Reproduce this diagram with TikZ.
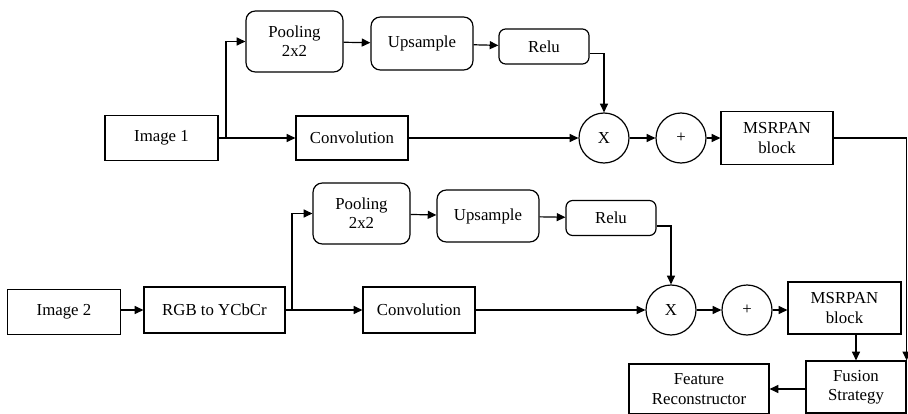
\documentclass[tikz,border=0pt]{standalone}
\usepackage{fontspec}
\setmainfont{Liberation Serif}
\usetikzlibrary{arrows.meta}
\begin{document}
\begin{tikzpicture}[x=0.75pt,y=-0.75pt]
      \tikzstyle{every path}=[line width=0.9pt]
      \tikzstyle{every node}=[font=\rmfamily\fontsize{12.6}{14.5}\selectfont]

      \tikzstyle{blk}=[draw,align=center,inner sep=2pt]
      \tikzstyle{rblk}=[blk,rounded corners=7pt]
      \tikzstyle{op}=[draw,circle,minimum size=37.5pt,inner sep=0pt]
      \tikzstyle{flow}=[-{Triangle[length=6.5pt,width=6pt]}]

      \useasboundingbox (0,0) rectangle (908,414);

      % first image
      \node [blk,minimum width=84.75pt,minimum height=33.75pt] (img1) at (161.5,138) {Image 1};
      \node [rblk,minimum width=72.75pt,minimum height=45.75pt] (pool1) at (294.5,41.5) {Pooling\\2x2};
      \node [rblk,minimum width=76.5pt,minimum height=39.75pt] (ups1) at (422,43.5) {Upsample};
      \node [rblk,rounded corners=5pt,minimum width=67.5pt,minimum height=26.25pt] (relu1) at (544,46.5) {Relu};
      \node [blk,minimum width=84pt,minimum height=33pt] (conv1) at (352,138) {Convolution};
      \node [op] (mul1) at (604,138) {X};
      \node [op] (add1) at (681,138) {+};
      \node [blk,minimum width=84pt,minimum height=39.75pt] (msr1) at (777,138) {MSRPAN\\block};
      \coordinate (br1) at (226,138);

      % second image
      \node [blk,minimum width=84.75pt,minimum height=33.75pt] (img2) at (64,312) {Image 2};
      \node [blk,minimum width=105.75pt,minimum height=34.5pt] (rgb) at (214.5,310) {RGB to YCbCr};
      \node [rblk,minimum width=72.75pt,minimum height=45.75pt] (pool2) at (361.5,213.5) {Pooling\\2x2};
      \node [rblk,minimum width=76.5pt,minimum height=39pt] (ups2) at (488,216) {Upsample};
      \node [rblk,rounded corners=5pt,minimum width=67.5pt,minimum height=26.25pt] (relu2) at (611,218) {Relu};
      \node [blk,minimum width=84pt,minimum height=34.5pt] (conv2) at (419,310) {Convolution};
      \node [op] (mul2) at (671,310) {X};
      \node [op] (add2) at (747,310) {+};
      \node [blk,minimum width=84.75pt,minimum height=39pt] (msr2) at (844.5,308) {MSRPAN\\block};
      \coordinate (br2) at (292,310);

      % output
      \node [blk,minimum width=75pt,minimum height=39pt] (fus) at (856,387) {Fusion\\Strategy};
      \node [blk,minimum width=105pt,minimum height=37.5pt] (rec) at (699,389) {Feature\\Reconstructor};

      \draw [flow] (img1.east) -- (conv1.west);
      \draw [flow] (br1) |- (pool1.west);
      \draw [flow] (pool1) -- (ups1);
      \draw [flow] (ups1) -- (relu1);
      \draw [flow] ([yshift=-5pt]relu1.east) -| (mul1.north);
      \draw [flow] (conv1.east) -- (mul1.west);
      \draw [flow] (mul1) -- (add1);
      \draw [flow] (add1) -- (msr1);
      \draw [flow] (msr1.east) -| (fus.north east);

      \draw [flow] (img2.east |- rgb) -- (rgb.west);
      \draw [flow] (rgb.east) -- (conv2.west);
      \draw [flow] (br2) |- (pool2.west);
      \draw [flow] (pool2) -- (ups2);
      \draw [flow] (ups2) -- (relu2);
      \draw [flow] ([yshift=-6pt]relu2.east) -| (mul2.north);
      \draw [flow] (conv2.east) -- (mul2.west);
      \draw [flow] (mul2) -- (add2);
      \draw [flow] (add2) -- (msr2.west |- add2);
      \draw [flow] (msr2.south -| fus.north) -- (fus.north);
      \draw [flow] (fus.west |- rec) -- (rec.east);
\end{tikzpicture}
\end{document}
